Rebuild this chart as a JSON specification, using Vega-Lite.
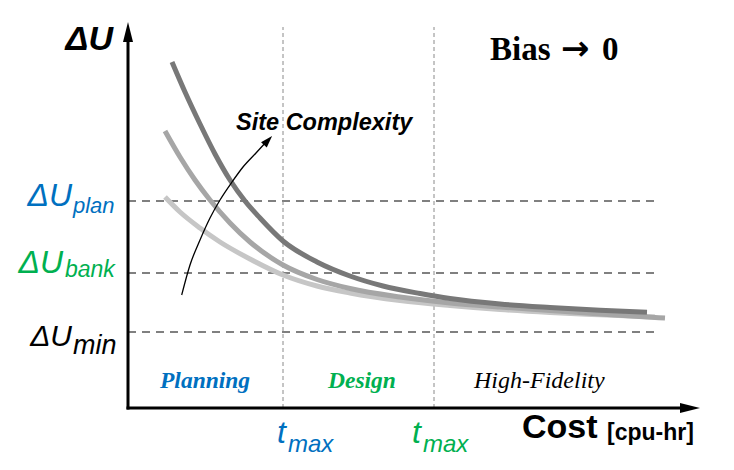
{
  "$schema": "https://vega.github.io/schema/vega-lite/v6.json",
  "width": 734,
  "height": 470,
  "autosize": {"type": "fit", "contains": "padding"},
  "padding": 0,
  "background": "white",
  "config": {"view": {"stroke": null}},
  "datasets": {
    "curves": [
      {"complexity": "high", "cost": 44, "dU": 346},
      {"complexity": "high", "cost": 57, "dU": 316},
      {"complexity": "high", "cost": 72, "dU": 284},
      {"complexity": "high", "cost": 87, "dU": 254},
      {"complexity": "high", "cost": 102, "dU": 228},
      {"complexity": "high", "cost": 117, "dU": 207},
      {"complexity": "high", "cost": 132, "dU": 190},
      {"complexity": "high", "cost": 155, "dU": 167},
      {"complexity": "high", "cost": 189, "dU": 146},
      {"complexity": "high", "cost": 222, "dU": 132},
      {"complexity": "high", "cost": 255, "dU": 122},
      {"complexity": "high", "cost": 292, "dU": 114.5},
      {"complexity": "high", "cost": 322, "dU": 109.5},
      {"complexity": "high", "cost": 372, "dU": 104},
      {"complexity": "high", "cost": 422, "dU": 100.5},
      {"complexity": "high", "cost": 472, "dU": 97.7},
      {"complexity": "high", "cost": 519, "dU": 95.7},
      {"complexity": "mid", "cost": 37, "dU": 277},
      {"complexity": "mid", "cost": 52, "dU": 251},
      {"complexity": "mid", "cost": 67, "dU": 228},
      {"complexity": "mid", "cost": 82, "dU": 208},
      {"complexity": "mid", "cost": 102, "dU": 185},
      {"complexity": "mid", "cost": 122, "dU": 166},
      {"complexity": "mid", "cost": 155, "dU": 143},
      {"complexity": "mid", "cost": 189, "dU": 128.5},
      {"complexity": "mid", "cost": 222, "dU": 119.5},
      {"complexity": "mid", "cost": 272, "dU": 111},
      {"complexity": "mid", "cost": 322, "dU": 105},
      {"complexity": "mid", "cost": 372, "dU": 101},
      {"complexity": "mid", "cost": 422, "dU": 97.5},
      {"complexity": "mid", "cost": 472, "dU": 94},
      {"complexity": "mid", "cost": 537, "dU": 90},
      {"complexity": "low", "cost": 37, "dU": 211},
      {"complexity": "low", "cost": 52, "dU": 196},
      {"complexity": "low", "cost": 72, "dU": 180},
      {"complexity": "low", "cost": 92, "dU": 166},
      {"complexity": "low", "cost": 122, "dU": 149},
      {"complexity": "low", "cost": 155, "dU": 133},
      {"complexity": "low", "cost": 189, "dU": 122},
      {"complexity": "low", "cost": 222, "dU": 115},
      {"complexity": "low", "cost": 272, "dU": 107.5},
      {"complexity": "low", "cost": 322, "dU": 102.5},
      {"complexity": "low", "cost": 372, "dU": 98.5},
      {"complexity": "low", "cost": 422, "dU": 95.5},
      {"complexity": "low", "cost": 472, "dU": 93.2},
      {"complexity": "low", "cost": 527, "dU": 91}
    ],
    "trend": [
      {"cost": 53.7, "dU": 113},
      {"cost": 62, "dU": 143},
      {"cost": 72, "dU": 168},
      {"cost": 82, "dU": 190},
      {"cost": 92, "dU": 208},
      {"cost": 104, "dU": 226},
      {"cost": 115, "dU": 241},
      {"cost": 128, "dU": 255},
      {"cost": 139, "dU": 267}
    ]
  },
  "layer": [
    {
      "data": {"values": [
        {"level": "plan", "dU": 207, "from": 0, "to": 527},
        {"level": "bank", "dU": 135, "from": 0, "to": 527},
        {"level": "min", "dU": 76, "from": 0, "to": 527}
      ]},
      "mark": {"type": "rule", "stroke": "#808080", "strokeWidth": 2, "strokeDash": [8, 6]},
      "encoding": {
        "x": {"field": "from", "type": "quantitative", "scale": {"domain": [-128, 606], "nice": false, "zero": false}, "axis": null},
        "x2": {"field": "to"},
        "y": {"field": "dU", "type": "quantitative", "scale": {"domain": [-62, 408], "nice": false, "zero": false}, "axis": null}
      }
    },
    {
      "data": {"values": [
        {"phase": "planning|design", "cost": 155, "bottom": 0, "top": 381},
        {"phase": "design|high-fidelity", "cost": 306, "bottom": 0, "top": 381}
      ]},
      "mark": {"type": "rule", "stroke": "#8a8a8a", "strokeWidth": 1, "strokeDash": [4, 3]},
      "encoding": {
        "x": {"field": "cost", "type": "quantitative", "axis": null},
        "y": {"field": "bottom", "type": "quantitative", "axis": null},
        "y2": {"field": "top"}
      }
    },
    {
      "data": {"name": "curves"},
      "transform": [{"filter": "datum.complexity === 'low'"}],
      "mark": {"type": "line", "stroke": "#c6c6c6", "strokeWidth": 5, "interpolate": "monotone", "strokeCap": "butt"},
      "encoding": {
        "x": {"field": "cost", "type": "quantitative", "axis": null},
        "y": {"field": "dU", "type": "quantitative", "axis": null}
      }
    },
    {
      "data": {"name": "curves"},
      "transform": [{"filter": "datum.complexity === 'mid'"}],
      "mark": {"type": "line", "stroke": "#a6a6a6", "strokeWidth": 5, "interpolate": "monotone", "strokeCap": "butt"},
      "encoding": {
        "x": {"field": "cost", "type": "quantitative", "axis": null},
        "y": {"field": "dU", "type": "quantitative", "axis": null}
      }
    },
    {
      "data": {"name": "curves"},
      "transform": [{"filter": "datum.complexity === 'high'"}],
      "mark": {"type": "line", "stroke": "#787878", "strokeWidth": 5, "interpolate": "monotone", "strokeCap": "butt"},
      "encoding": {
        "x": {"field": "cost", "type": "quantitative", "axis": null},
        "y": {"field": "dU", "type": "quantitative", "axis": null}
      }
    },
    {
      "data": {"name": "trend"},
      "mark": {"type": "line", "stroke": "black", "strokeWidth": 1.3, "interpolate": "monotone"},
      "encoding": {
        "x": {"field": "cost", "type": "quantitative", "axis": null},
        "y": {"field": "dU", "type": "quantitative", "axis": null}
      }
    },
    {
      "data": {"values": [{"cost": 140, "dU": 267.6}]},
      "mark": {"type": "point", "shape": "M0,-1L0.65,1L-0.65,1Z", "filled": true, "size": 144, "color": "black", "opacity": 1, "angle": 43},
      "encoding": {
        "x": {"field": "cost", "type": "quantitative", "axis": null},
        "y": {"field": "dU", "type": "quantitative", "axis": null}
      }
    },
    {
      "data": {"values": [{"cost": 0, "dU0": 0, "dU1": 376}]},
      "mark": {"type": "rule", "stroke": "black", "strokeWidth": 3, "strokeCap": "square"},
      "encoding": {
        "x": {"field": "cost", "type": "quantitative", "axis": null},
        "y": {"field": "dU0", "type": "quantitative", "axis": null},
        "y2": {"field": "dU1"}
      }
    },
    {
      "data": {"values": [{"dU": 0, "cost0": 0, "cost1": 560}]},
      "mark": {"type": "rule", "stroke": "black", "strokeWidth": 3, "strokeCap": "square"},
      "encoding": {
        "x": {"field": "cost0", "type": "quantitative", "axis": null},
        "x2": {"field": "cost1"},
        "y": {"field": "dU", "type": "quantitative", "axis": null}
      }
    },
    {
      "data": {"values": [{"cost": 0, "dU": 376}]},
      "mark": {"type": "point", "shape": "M0,-1L0.5,1L-0.5,1Z", "filled": true, "size": 400, "color": "black", "opacity": 1, "angle": 0},
      "encoding": {
        "x": {"field": "cost", "type": "quantitative", "axis": null},
        "y": {"field": "dU", "type": "quantitative", "axis": null}
      }
    },
    {
      "data": {"values": [{"cost": 562, "dU": 0}]},
      "mark": {"type": "point", "shape": "M0,-1L0.5,1L-0.5,1Z", "filled": true, "size": 400, "color": "black", "opacity": 1, "angle": 90},
      "encoding": {
        "x": {"field": "cost", "type": "quantitative", "axis": null},
        "y": {"field": "dU", "type": "quantitative", "axis": null}
      }
    },
    {
      "data": {"values": [{"cost": -15, "dU": 358, "label": "ΔU"}]},
      "mark": {"type": "text", "font": "Liberation Sans", "fontSize": 34, "fontWeight": "bold", "fontStyle": "italic", "color": "black", "align": "right", "baseline": "alphabetic"},
      "encoding": {
        "x": {"field": "cost", "type": "quantitative", "axis": null},
        "y": {"field": "dU", "type": "quantitative", "axis": null},
        "text": {"field": "label"}
      }
    },
    {
      "data": {"values": [{"cost": -56, "dU": 202, "label": "ΔU"}]},
      "mark": {"type": "text", "font": "Liberation Sans", "fontSize": 32, "fontStyle": "italic", "color": "#0070C0", "align": "right", "baseline": "alphabetic"},
      "encoding": {
        "x": {"field": "cost", "type": "quantitative", "axis": null},
        "y": {"field": "dU", "type": "quantitative", "axis": null},
        "text": {"field": "label"}
      }
    },
    {
      "data": {"values": [{"cost": -55, "dU": 195, "label": "plan"}]},
      "mark": {"type": "text", "font": "Liberation Sans", "fontSize": 22, "fontStyle": "italic", "color": "#0070C0", "align": "left", "baseline": "alphabetic"},
      "encoding": {
        "x": {"field": "cost", "type": "quantitative", "axis": null},
        "y": {"field": "dU", "type": "quantitative", "axis": null},
        "text": {"field": "label"}
      }
    },
    {
      "data": {"values": [{"cost": -65, "dU": 135, "label": "ΔU"}]},
      "mark": {"type": "text", "font": "Liberation Sans", "fontSize": 32, "fontStyle": "italic", "color": "#00B050", "align": "right", "baseline": "alphabetic"},
      "encoding": {
        "x": {"field": "cost", "type": "quantitative", "axis": null},
        "y": {"field": "dU", "type": "quantitative", "axis": null},
        "text": {"field": "label"}
      }
    },
    {
      "data": {"values": [{"cost": -63, "dU": 131, "label": "bank"}]},
      "mark": {"type": "text", "font": "Liberation Sans", "fontSize": 23, "fontStyle": "italic", "color": "#00B050", "align": "left", "baseline": "alphabetic"},
      "encoding": {
        "x": {"field": "cost", "type": "quantitative", "axis": null},
        "y": {"field": "dU", "type": "quantitative", "axis": null},
        "text": {"field": "label"}
      }
    },
    {
      "data": {"values": [{"cost": -56, "dU": 62, "label": "ΔU"}]},
      "mark": {"type": "text", "font": "Liberation Sans", "fontSize": 30, "fontStyle": "italic", "color": "black", "align": "right", "baseline": "alphabetic"},
      "encoding": {
        "x": {"field": "cost", "type": "quantitative", "axis": null},
        "y": {"field": "dU", "type": "quantitative", "axis": null},
        "text": {"field": "label"}
      }
    },
    {
      "data": {"values": [{"cost": -55, "dU": 54, "label": "min"}]},
      "mark": {"type": "text", "font": "Liberation Sans", "fontSize": 27, "fontStyle": "italic", "color": "black", "align": "left", "baseline": "alphabetic"},
      "encoding": {
        "x": {"field": "cost", "type": "quantitative", "axis": null},
        "y": {"field": "dU", "type": "quantitative", "axis": null},
        "text": {"field": "label"}
      }
    },
    {
      "data": {"values": [{"cost": 149, "dU": -35, "label": "t"}]},
      "mark": {"type": "text", "font": "Liberation Sans", "fontSize": 32, "fontStyle": "italic", "color": "#0070C0", "align": "left", "baseline": "alphabetic"},
      "encoding": {
        "x": {"field": "cost", "type": "quantitative", "axis": null},
        "y": {"field": "dU", "type": "quantitative", "axis": null},
        "text": {"field": "label"}
      }
    },
    {
      "data": {"values": [{"cost": 160, "dU": -44, "label": "max"}]},
      "mark": {"type": "text", "font": "Liberation Sans", "fontSize": 24, "fontStyle": "italic", "color": "#0070C0", "align": "left", "baseline": "alphabetic"},
      "encoding": {
        "x": {"field": "cost", "type": "quantitative", "axis": null},
        "y": {"field": "dU", "type": "quantitative", "axis": null},
        "text": {"field": "label"}
      }
    },
    {
      "data": {"values": [{"cost": 284, "dU": -35, "label": "t"}]},
      "mark": {"type": "text", "font": "Liberation Sans", "fontSize": 32, "fontStyle": "italic", "color": "#00B050", "align": "left", "baseline": "alphabetic"},
      "encoding": {
        "x": {"field": "cost", "type": "quantitative", "axis": null},
        "y": {"field": "dU", "type": "quantitative", "axis": null},
        "text": {"field": "label"}
      }
    },
    {
      "data": {"values": [{"cost": 295, "dU": -44, "label": "max"}]},
      "mark": {"type": "text", "font": "Liberation Sans", "fontSize": 24, "fontStyle": "italic", "color": "#00B050", "align": "left", "baseline": "alphabetic"},
      "encoding": {
        "x": {"field": "cost", "type": "quantitative", "axis": null},
        "y": {"field": "dU", "type": "quantitative", "axis": null},
        "text": {"field": "label"}
      }
    },
    {
      "data": {"values": [{"cost": 394, "dU": -30, "label": "Cost"}]},
      "mark": {"type": "text", "font": "Liberation Sans", "fontSize": 34, "fontWeight": "bold", "color": "black", "align": "left", "baseline": "alphabetic"},
      "encoding": {
        "x": {"field": "cost", "type": "quantitative", "axis": null},
        "y": {"field": "dU", "type": "quantitative", "axis": null},
        "text": {"field": "label"}
      }
    },
    {
      "data": {"values": [{"cost": 479, "dU": -32, "label": "[cpu-hr]"}]},
      "mark": {"type": "text", "font": "Liberation Sans", "fontSize": 23, "fontWeight": "bold", "color": "black", "align": "left", "baseline": "alphabetic"},
      "encoding": {
        "x": {"field": "cost", "type": "quantitative", "axis": null},
        "y": {"field": "dU", "type": "quantitative", "axis": null},
        "text": {"field": "label"}
      }
    },
    {
      "data": {"values": [{"cost": 362, "dU": 348, "label": "Bias"}, {"cost": 474, "dU": 348, "label": "0"}]},
      "mark": {"type": "text", "font": "Liberation Serif", "fontSize": 33, "fontWeight": "bold", "color": "black", "align": "left", "baseline": "alphabetic"},
      "encoding": {
        "x": {"field": "cost", "type": "quantitative", "axis": null},
        "y": {"field": "dU", "type": "quantitative", "axis": null},
        "text": {"field": "label"}
      }
    },
    {
      "data": {"values": [{"cost": 433, "dU": 348, "label": "→"}]},
      "mark": {"type": "text", "font": "DejaVu Sans", "fontSize": 34, "fontWeight": "bold", "color": "black", "align": "left", "baseline": "alphabetic"},
      "encoding": {
        "x": {"field": "cost", "type": "quantitative", "axis": null},
        "y": {"field": "dU", "type": "quantitative", "axis": null},
        "text": {"field": "label"}
      }
    },
    {
      "data": {"values": [{"cost": 108, "dU": 278, "label": "Site Complexity"}]},
      "mark": {"type": "text", "font": "Liberation Sans", "fontSize": 23.5, "fontWeight": "bold", "fontStyle": "italic", "color": "black", "align": "left", "baseline": "alphabetic"},
      "encoding": {
        "x": {"field": "cost", "type": "quantitative", "axis": null},
        "y": {"field": "dU", "type": "quantitative", "axis": null},
        "text": {"field": "label"}
      }
    },
    {
      "data": {"values": [{"cost": 32, "dU": 20, "label": "Planning"}]},
      "mark": {"type": "text", "font": "Liberation Serif", "fontSize": 23.5, "fontWeight": "bold", "fontStyle": "italic", "color": "#0070C0", "align": "left", "baseline": "alphabetic"},
      "encoding": {
        "x": {"field": "cost", "type": "quantitative", "axis": null},
        "y": {"field": "dU", "type": "quantitative", "axis": null},
        "text": {"field": "label"}
      }
    },
    {
      "data": {"values": [{"cost": 200, "dU": 20, "label": "Design"}]},
      "mark": {"type": "text", "font": "Liberation Serif", "fontSize": 23.5, "fontWeight": "bold", "fontStyle": "italic", "color": "#00B050", "align": "left", "baseline": "alphabetic"},
      "encoding": {
        "x": {"field": "cost", "type": "quantitative", "axis": null},
        "y": {"field": "dU", "type": "quantitative", "axis": null},
        "text": {"field": "label"}
      }
    },
    {
      "data": {"values": [{"cost": 346, "dU": 20, "label": "High-Fidelity"}]},
      "mark": {"type": "text", "font": "Liberation Serif", "fontSize": 24, "fontStyle": "italic", "color": "black", "align": "left", "baseline": "alphabetic"},
      "encoding": {
        "x": {"field": "cost", "type": "quantitative", "axis": null},
        "y": {"field": "dU", "type": "quantitative", "axis": null},
        "text": {"field": "label"}
      }
    }
  ]
}
